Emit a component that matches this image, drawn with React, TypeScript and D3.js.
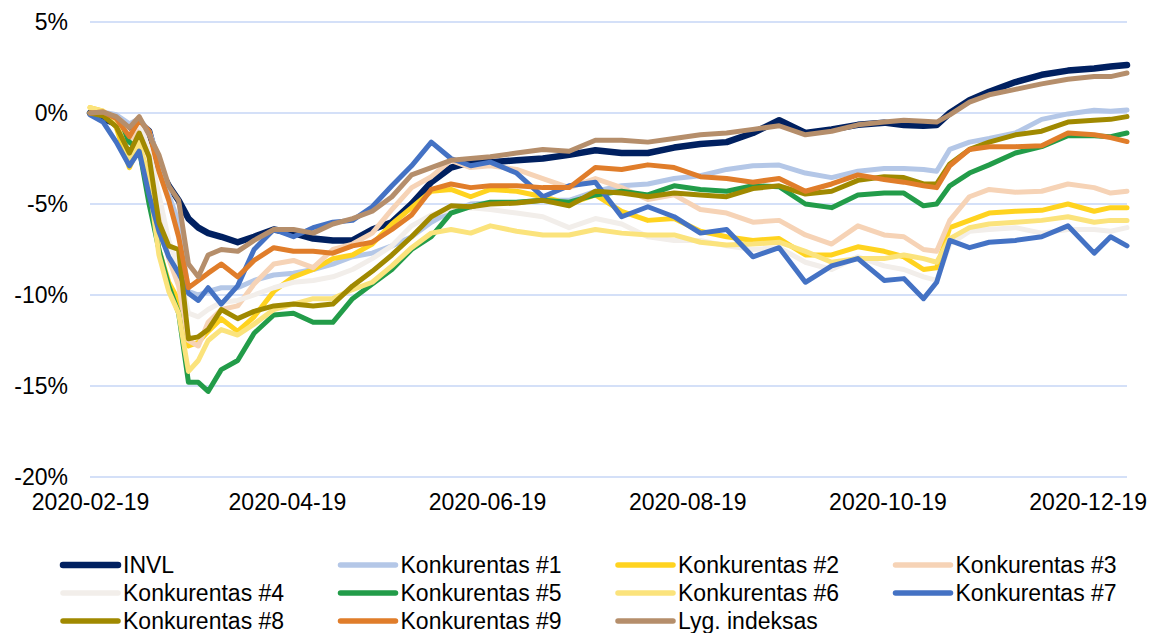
import React, { useEffect, useRef } from "react"
import * as d3 from "d3"

// sample dates
const dates = [
	"2020-02-19", "2020-02-23", "2020-02-27", "2020-03-02", "2020-03-05", "2020-03-08",
	"2020-03-11", "2020-03-14", "2020-03-17", "2020-03-20", "2020-03-23", "2020-03-26",
	"2020-03-30", "2020-04-04", "2020-04-09", "2020-04-15", "2020-04-21", "2020-04-27",
	"2020-05-03", "2020-05-09", "2020-05-15", "2020-05-21", "2020-05-27", "2020-06-02",
	"2020-06-08", "2020-06-14", "2020-06-20", "2020-06-28", "2020-07-06", "2020-07-14",
	"2020-07-22", "2020-07-30", "2020-08-07", "2020-08-15", "2020-08-23", "2020-08-31",
	"2020-09-08", "2020-09-16", "2020-09-24", "2020-10-02", "2020-10-10", "2020-10-18",
	"2020-10-24", "2020-10-30", "2020-11-03", "2020-11-07", "2020-11-13", "2020-11-19",
	"2020-11-27", "2020-12-05", "2020-12-13", "2020-12-21", "2020-12-26", "2020-12-31",
]

// values in %
const invl = [0, -0.3, -0.6, -0.8, -0.5, -1.0, -3.0, -4.0, -4.8, -5.8, -6.3, -6.6, -6.8, -7.1, -6.8, -6.4, -6.6, -6.9, -7.0, -7.0, -6.4, -6.0, -5.0, -3.8, -3.0, -2.7, -2.7, -2.6, -2.5, -2.3, -2.05, -2.2, -2.2, -1.9, -1.7, -1.6, -1.1, -0.4, -1.1, -0.9, -0.65, -0.53, -0.66, -0.7, -0.66, 0.0, 0.7, 1.17, 1.7, 2.1, 2.33, 2.45, 2.55, 2.64]
const k1 = [0, 0.05, -0.1, -0.6, -0.3, -1.0, -2.5, -4.5, -6.0, -9.8, -10.0, -9.8, -9.6, -9.6, -9.2, -8.9, -8.8, -8.6, -8.3, -7.9, -7.7, -7.3, -6.8, -6.0, -5.4, -5.0, -4.95, -4.9, -4.8, -4.8, -4.3, -4.0, -3.9, -3.6, -3.45, -3.1, -2.9, -2.86, -3.3, -3.55, -3.2, -3.05, -3.05, -3.1, -3.2, -2.0, -1.6, -1.4, -1.1, -0.35, -0.05, 0.15, 0.1, 0.16]
const k2 = [0.3, 0.1, -0.8, -3.0, -1.8, -3.5, -7.5, -9.3, -10.3, -12.8, -12.6, -12.0, -11.3, -12.0, -11.2, -9.8, -9.0, -8.6, -8.0, -7.8, -7.2, -6.1, -5.2, -4.3, -4.2, -4.6, -4.2, -4.3, -4.6, -5.0, -4.5, -5.4, -5.9, -5.8, -6.5, -6.8, -7.0, -6.9, -7.8, -7.8, -7.35, -7.6, -7.9, -8.6, -8.5, -6.3, -5.9, -5.5, -5.4, -5.35, -5.0, -5.4, -5.2, -5.2]
const k3 = [0, 0, -0.4, -1.5, -0.8, -2.5, -5.5, -8.0, -9.5, -12.5, -12.8, -11.5, -10.8, -10.6, -9.4, -8.3, -8.1, -8.5, -7.5, -7.2, -6.6, -5.3, -4.1, -3.5, -2.6, -3.0, -2.9, -3.1, -3.6, -4.1, -3.6, -4.1, -4.75, -4.5, -5.3, -5.5, -6.0, -5.9, -6.7, -7.2, -6.2, -6.7, -6.8, -7.5, -7.6, -5.9, -4.6, -4.2, -4.35, -4.3, -3.9, -4.1, -4.4, -4.3]
const k4 = [0, 0, -0.3, -1.2, -0.6, -2.0, -4.5, -7.0, -8.5, -11.0, -11.2, -10.8, -10.4, -10.3, -10.0, -9.6, -9.3, -9.2, -9.0, -8.6, -8.0, -7.3, -6.2, -5.6, -5.3, -5.2, -5.3, -5.5, -5.7, -6.3, -5.8, -6.1, -6.8, -7.0, -7.0, -7.3, -7.5, -7.4, -8.2, -8.6, -7.9, -8.4, -8.6, -9.0, -9.2, -7.2, -6.5, -6.4, -6.3, -6.6, -6.4, -6.4, -6.5, -6.3]
const k5 = [0, -0.15, -0.7, -1.6, -2.0, -5.0, -7.5, -9.5, -11.0, -14.8, -14.8, -15.3, -14.1, -13.6, -12.1, -11.1, -11.0, -11.5, -11.5, -10.2, -9.4, -8.6, -7.5, -6.8, -5.5, -5.15, -4.9, -4.9, -4.8, -4.9, -4.5, -4.3, -4.5, -4.0, -4.2, -4.3, -4.0, -4.05, -5.0, -5.2, -4.5, -4.4, -4.4, -5.1, -5.0, -4.0, -3.3, -2.85, -2.2, -1.85, -1.25, -1.25, -1.3, -1.1]
const k6 = [0.3, 0.1, -0.5, -2.5, -1.6, -3.8, -7.8, -9.8, -11.0, -14.2, -13.6, -12.5, -11.9, -12.2, -11.6, -10.8, -10.5, -10.2, -10.2, -9.7, -9.3, -8.4, -7.4, -6.6, -6.4, -6.6, -6.2, -6.5, -6.7, -6.7, -6.4, -6.6, -6.7, -6.7, -7.1, -7.25, -7.2, -7.1, -7.6, -8.2, -8.0, -8.0, -7.8, -8.0, -8.2, -6.9, -6.3, -6.1, -6.0, -5.9, -5.7, -6.0, -5.9, -5.9]
const k7 = [-0.1, -0.5, -1.6, -2.9, -2.1, -4.5, -6.5, -7.9, -8.8, -9.9, -10.3, -9.6, -10.5, -9.5, -7.5, -6.4, -6.8, -6.3, -6.0, -5.9, -5.15, -4.0, -2.9, -1.6, -2.5, -2.9, -2.7, -3.3, -4.6, -4.0, -3.8, -5.7, -5.15, -5.7, -6.6, -6.4, -7.9, -7.4, -9.3, -8.4, -8.0, -9.2, -9.1, -10.2, -9.3, -7.0, -7.4, -7.1, -7.0, -6.8, -6.2, -7.7, -6.8, -7.3]
const k8 = [0, -0.15, -0.75, -2.2, -1.1, -2.4, -6.0, -7.3, -7.5, -12.4, -12.3, -11.9, -10.8, -11.3, -10.9, -10.6, -10.5, -10.6, -10.5, -9.5, -8.7, -7.8, -6.8, -5.7, -5.1, -5.15, -5.0, -4.95, -4.8, -5.1, -4.3, -4.4, -4.6, -4.4, -4.5, -4.6, -4.15, -4.0, -4.45, -4.3, -3.7, -3.5, -3.55, -3.9, -3.9, -2.8, -2.0, -1.6, -1.2, -1.0, -0.5, -0.4, -0.35, -0.2]
const k9 = [0, 0.05, -0.3, -1.3, -0.4, -1.0, -3.2, -4.8, -6.8, -9.6, -9.2, -8.8, -8.3, -9.0, -8.1, -7.4, -7.6, -7.6, -7.7, -7.3, -7.1, -6.4, -5.6, -4.2, -3.9, -4.1, -4.0, -4.0, -4.1, -4.1, -3.0, -3.1, -2.85, -3.0, -3.5, -3.6, -3.8, -3.6, -4.3, -3.9, -3.4, -3.65, -3.8, -4.0, -4.1, -2.9, -2.0, -1.85, -1.85, -1.8, -1.1, -1.2, -1.35, -1.57]
const index = [0, 0.05, -0.2, -0.8, -0.2, -1.2, -2.3, -4.0, -4.8, -8.3, -9.0, -7.8, -7.5, -7.6, -7.0, -6.4, -6.4, -6.6, -6.1, -5.8, -5.4, -4.6, -3.4, -3.0, -2.6, -2.5, -2.4, -2.2, -2.0, -2.1, -1.5, -1.5, -1.6, -1.4, -1.2, -1.1, -0.9, -0.7, -1.2, -1.0, -0.65, -0.5, -0.4, -0.45, -0.5, -0.1, 0.6, 1.0, 1.3, 1.6, 1.85, 2.0, 2.0, 2.2]

const names = [
	"INVL", "Konkurentas #1", "Konkurentas #2", "Konkurentas #3",
	"Konkurentas #4", "Konkurentas #5", "Konkurentas #6", "Konkurentas #7",
	"Konkurentas #8", "Konkurentas #9", "Lyg. indeksas",
]
const seriesValues = [invl, k1, k2, k3, k4, k5, k6, k7, k8, k9, index]
const colors = [
	"#002060", "#B4C7E7", "#FFD31F", "#F6D3B6", "#F2EEEA", "#229C49",
	"#FBE37C", "#4472C4", "#A08900", "#E07D2A", "#B58E6B",
]

const yTicks = [5, 0, -5, -10, -15, -20]
const xTickLabels = ["2020-02-19", "2020-04-19", "2020-06-19", "2020-08-19", "2020-10-19", "2020-12-19"]

const W = 1150
const H = 633
const FONT = "'Liberation Sans', Arial, sans-serif"

const App = () => {
	const svgRef = useRef()

	useEffect(() => {
		const parse = d3.timeParse("%Y-%m-%d")
		const margin = { top: 22, right: 23, bottom: 156, left: 90 }

		const x = d3
			.scaleTime()
			.domain([parse("2020-02-19"), parse("2020-12-31")])
			.range([margin.left, W - margin.right])
		const y = d3
			.scaleLinear()
			.domain([-20, 5])
			.range([H - margin.bottom, margin.top])

		const svg = d3.select(svgRef.current)
		svg.selectAll("*").remove()

		// grid
		svg.append("g")
			.selectAll("line")
			.data(yTicks)
			.join("line")
			.attr("x1", margin.left)
			.attr("x2", W - margin.right)
			.attr("y1", (d) => y(d))
			.attr("y2", (d) => y(d))
			.attr("stroke", "#C6D6F6")
			.attr("stroke-width", 1.5)

		// y axis labels
		const yAxis = d3.axisLeft(y).tickValues(yTicks).tickFormat((d) => `${d}%`).tickSize(0).tickPadding(22)
		svg.append("g")
			.attr("transform", `translate(${margin.left}, 0)`)
			.call(yAxis)
			.call((g) => g.select(".domain").remove())
			.selectAll("text")
			.attr("font-family", FONT)
			.attr("font-size", 23)
			.attr("fill", "#000")

		// x axis labels
		const xAxis = d3
			.axisBottom(x)
			.tickValues(xTickLabels.map(parse))
			.tickFormat(d3.timeFormat("%Y-%m-%d"))
			.tickSize(0)
			.tickPadding(17)
		svg.append("g")
			.attr("transform", `translate(0, ${H - margin.bottom})`)
			.call(xAxis)
			.call((g) => g.select(".domain").remove())
			.selectAll("text")
			.attr("font-family", FONT)
			.attr("font-size", 23)
			.attr("fill", "#000")

		// lines
		const parsed = dates.map(parse)
		const line = d3
			.line()
			.x((d) => x(d[0]))
			.y((d) => y(d[1]))

		svg.append("g")
			.selectAll("path")
			.data(seriesValues)
			.join("path")
			.attr("d", (vals) => line(vals.map((v, i) => [parsed[i], v])))
			.attr("fill", "none")
			.attr("stroke", (_, i) => colors[i])
			.attr("stroke-width", (_, i) => (i === 0 ? 6.5 : 5))
			.attr("stroke-linejoin", "round")
			.attr("stroke-linecap", "round")

		// legend
		const legend = svg
			.append("g")
			.selectAll("g")
			.data(names)
			.join("g")
			.attr("transform", (_, i) => `translate(${63 + (i % 4) * 277.5}, ${565 + Math.floor(i / 4) * 28})`)

		legend
			.append("line")
			.attr("x1", 0)
			.attr("x2", 55)
			.attr("stroke", (_, i) => colors[i])
			.attr("stroke-width", (_, i) => (i === 0 ? 6.5 : 5.5))
			.attr("stroke-linecap", "round")

		legend
			.append("text")
			.attr("x", 60)
			.attr("dy", "0.35em")
			.attr("font-family", FONT)
			.attr("font-size", 23)
			.attr("fill", "#000")
			.text((d) => d)
	}, [])

	return (
		<svg
			ref={svgRef}
			width={W}
			height={H}
			style={{ position: "absolute", left: 0, top: 0, background: "#fff" }}
		></svg>
	)
}

export default App
